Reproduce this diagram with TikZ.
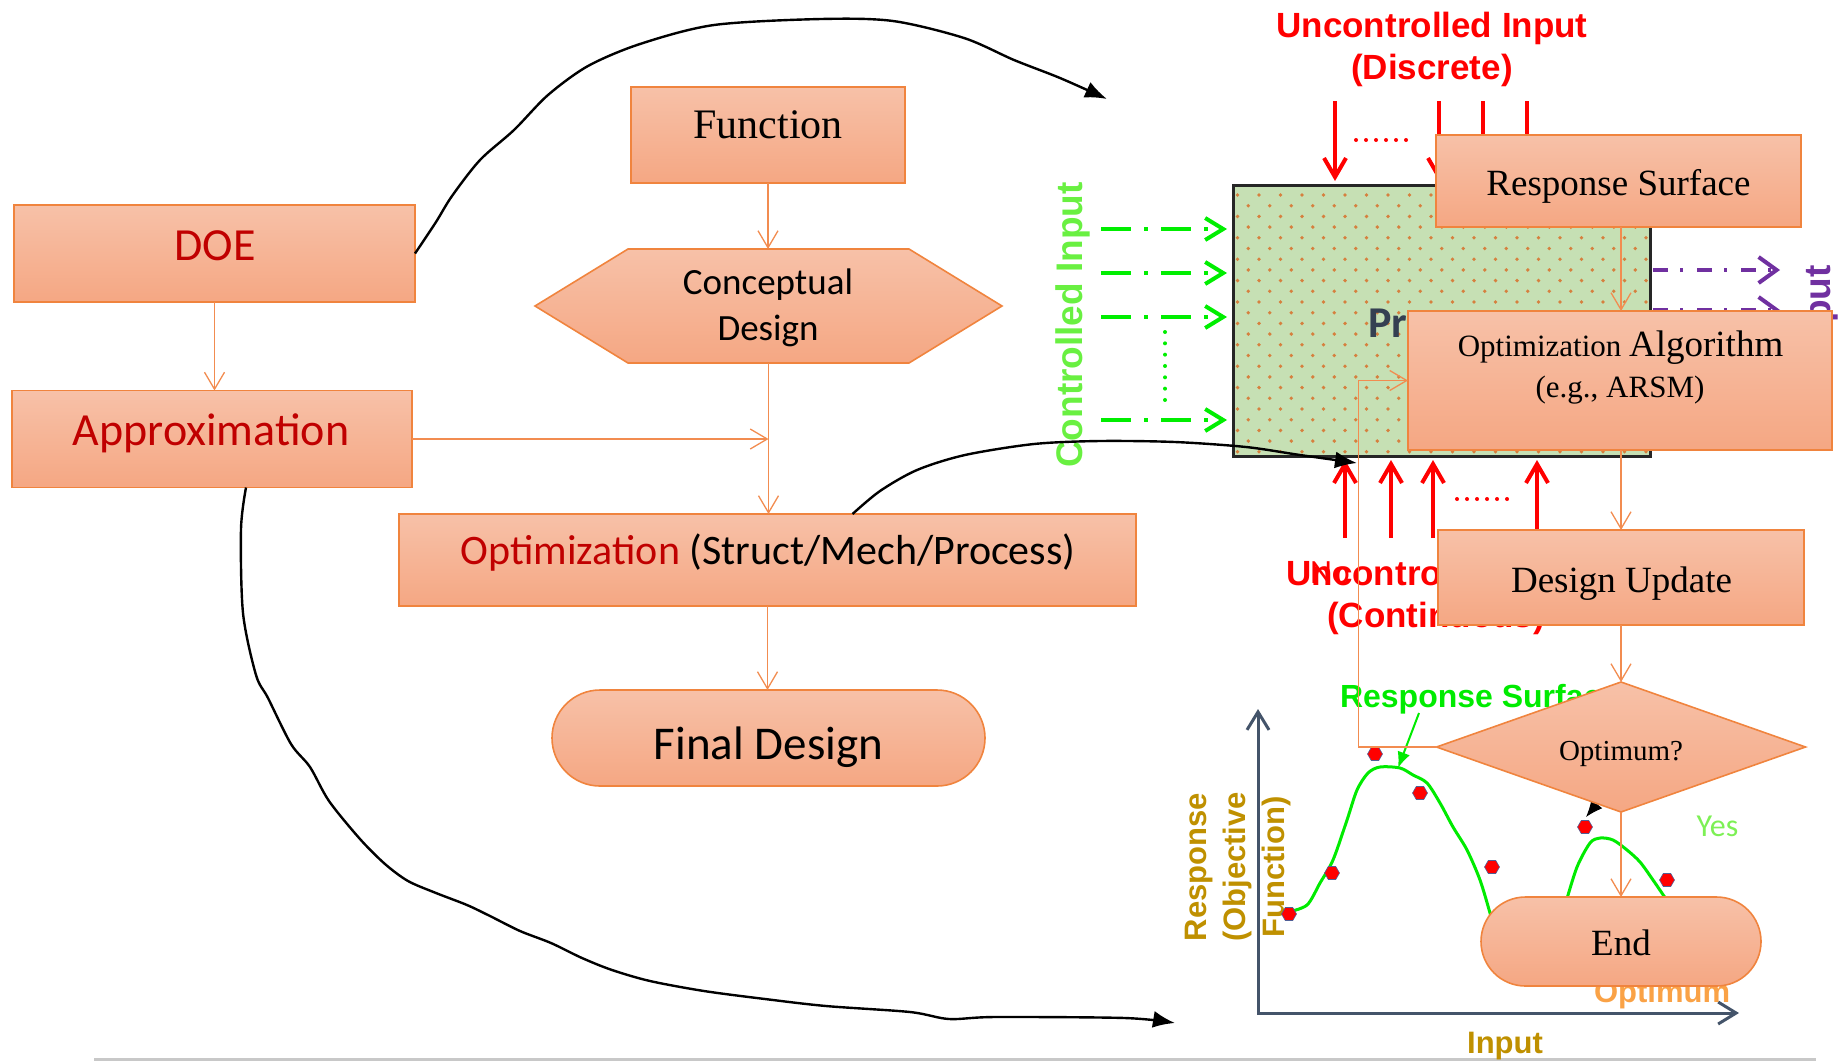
\documentclass[tikz,border=0pt]{standalone}
\usepackage{fontspec}
\setmainfont{Liberation Serif}
\newfontfamily\calib{Carlito}
\newfontfamily\arialf{Liberation Sans}
\usetikzlibrary{arrows.meta,shapes.misc,shapes.geometric}
\newcommand\setfs[1]{\fontsize{#1}{#1}\selectfont}

\definecolor{boxtop}{RGB}{247,193,168}
\definecolor{boxbot}{RGB}{245,167,131}
\definecolor{boxline}{RGB}{240,132,62}
\definecolor{flowline}{RGB}{242,140,80}
\definecolor{darkred}{RGB}{192,0,0}
\definecolor{inred}{RGB}{255,0,0}
\definecolor{procfill}{RGB}{198,224,180}
\definecolor{dotcol}{RGB}{214,128,62}
\definecolor{prtext}{RGB}{52,64,82}
\definecolor{ctrlgreen}{RGB}{0,238,0}
\definecolor{ctrltext}{RGB}{105,240,65}
\definecolor{outpurple}{RGB}{112,48,160}
\definecolor{gold}{RGB}{191,144,0}
\definecolor{axiscol}{RGB}{68,84,106}
\definecolor{optorange}{RGB}{250,162,70}
\definecolor{yesgreen}{RGB}{125,240,85}
\definecolor{curvegreen}{RGB}{0,235,0}
\definecolor{hexedge}{RGB}{80,95,150}
\definecolor{rulegray}{RGB}{200,200,200}

\begin{document}
\begin{tikzpicture}[x=1pt,y=-1pt,
  box/.style={draw=boxline, line width=1.6pt, top color=boxtop, bottom color=boxbot, inner sep=0pt, outer sep=0pt},
  anchorbox/.style={inner sep=0pt, outer sep=0pt},
  lbl/.style={inner sep=0pt, outer sep=0pt, anchor=base},
  flow/.style={draw=flowline, line width=1.3pt, -{Straight Barb[length=17pt,width=20pt]}},
  redarr/.style={draw=inred, line width=4pt, -{Straight Barb[length=19pt,width=22pt]}},
  dotrow/.style={line width=4pt, line cap=round, dash pattern=on 0pt off #1},
  grnarr/.style={draw=ctrlgreen, line width=4pt, dash pattern=on 30pt off 13pt on 4pt off 13pt, -{Straight Barb[length=18pt,width=22pt]}},
  purarr/.style={draw=outpurple, line width=4pt, dash pattern=on 15pt off 12pt on 3pt off 14pt, -{Straight Barb[length=18pt,width=26pt]}},
  blkarr/.style={draw=black, line width=2.4pt, line join=round, -{Latex[length=22pt,width=17pt]}},
  axisline/.style={draw=axiscol, line width=3pt},
  fitcurve/.style={draw=curvegreen, line width=3pt, line join=round, line cap=round},
  sample/.style={regular polygon, regular polygon sides=6, minimum size=15pt, inner sep=0pt, fill=red, draw=hexedge, line width=0.6pt},
]
\useasboundingbox (0,0) rectangle (1843,1061);

% rule along the bottom
\coordinate (ruleL) at (94,1059);
\coordinate (ruleR) at (1816,1059);
\draw[rulegray, line width=3pt] (ruleL) -- (ruleR);

% ---------- process block with dotted fill ----------
\node[anchorbox, fill=procfill, minimum width=417pt, minimum height=271pt] (proc) at (1441.5,320.5) {};
\begin{scope}
  \clip (proc.north west) rectangle (proc.south east);
  \foreach \k in {-1,...,25} {
    \foreach \c in {-1,...,19} {
      \fill[dotcol] ({1259-10.75*mod(\k+2,2)+21.5*\c},{195+10.7*\k}) circle (1.9pt);
    }
  }
\end{scope}
\draw[black!85, line width=3pt] (proc.north west) rectangle (proc.south east);
\node[lbl, anchor=base west, font={\calib\bfseries\setfs{44}}, text=prtext] (proc-t) at (1368,337) {Process};

% controlled inputs
\foreach \yy in {229,273,317,420}
  \draw[grnarr, shorten >=6pt] (1101,\yy) -- (proc.west |- 0,\yy);
\draw[ctrlgreen, dotrow=11.33pt] (1165,332) -- (1165,400);
\node[lbl, rotate=90, font={\arialf\bfseries\setfs{37}}, text=ctrltext] (ctrl-t) at (1082,325) {Controlled Input};

% outputs
\coordinate (out1) at (1780,270);
\coordinate (out2) at (1780,310);
\draw[purarr, shorten <=3pt] (proc.east |- out1) -- (out1);
\draw[purarr, shorten <=3pt] (proc.east |- out2) -- (out2);
\node[lbl, rotate=90, font={\arialf\bfseries\setfs{37}}, text=outpurple] (out-t) at (1830,326) {Output};

% uncontrolled inputs, discrete
\foreach \xx in {1335,1439,1483,1527}
  \draw[redarr, shorten >=4pt] (\xx,101) -- (\xx,0 |- proc.north);
\draw[inred, dotrow=10pt] (1356,140) -- (1416,140);
\node[lbl, font={\arialf\bfseries\setfs{35}}, text=inred] (ucd1) at (1432,37) {Uncontrolled Input};
\node[lbl, font={\arialf\bfseries\setfs{35}}, text=inred] (ucd2) at (1432,79) {(Discrete)};

% uncontrolled inputs, continuous
\foreach \xx in {1345,1391,1433,1537}
  \draw[redarr, shorten >=4pt] (\xx,538) -- (\xx,0 |- proc.south);
\draw[inred, dotrow=10pt] (1457,499) -- (1517,499);
\node[lbl, font={\arialf\bfseries\setfs{35}}, text=inred] (ucc1) at (1442,585) {Uncontrolled Input};
\node[lbl, font={\arialf\bfseries\setfs{35}}, text=inred] (ucc2) at (1436,627) {(Continuous)};

% ---------- response plot ----------
\coordinate (org) at (1258,1013);
\coordinate (ytip) at (1258,709);
\coordinate (xtip) at (1739,1013);
\draw[axisline, {Straight Barb[length=18pt,width=22pt]}-{Straight Barb[length=18pt,width=22pt]}] (ytip) -- (org) -- (xtip);
\node[rotate=90, align=center, inner sep=0pt, font={\arialf\bfseries\fontsize{31}{39}\selectfont}, text=gold] (resp-t) at (1238,867) {Response\\(Objective\\Function)};
\node[lbl, font={\arialf\bfseries\setfs{31}}, text=gold] (inp-t) at (1505,1053) {Input};
\node[lbl, font={\arialf\bfseries\setfs{31}}, text=optorange] (optm-t) at (1662,1002) {Optimum};

\draw[fitcurve] plot[smooth, tension=0.5] coordinates {(1288,912) (1307,905) (1320,883) (1333,860) (1347,820) (1357,790) (1368,773) (1380,767) (1400,768) (1413,775) (1427,783) (1440,803) (1453,827) (1467,850) (1480,880) (1490,913) (1496,935)};
\draw[fitcurve] plot[smooth, tension=0.5] coordinates {(1566,902) (1577,867) (1590,843) (1600,838) (1613,840) (1627,850) (1640,862) (1653,880) (1668,902)};

\foreach \px/\py [count=\i] in {1289/914, 1332/873, 1375/754, 1420/793, 1492/867, 1585/827, 1667/880}
  \node[sample] (s\i) at (\px,\py) {};

\node[lbl, anchor=base west, font={\arialf\bfseries\setfs{32}}, text=curvegreen] (rs-lbl) at (1340,707) {Response Surface};
\coordinate (rsfoot) at (1419,713);
\coordinate (peak) at (1398,768);
\draw[curvegreen, line width=2pt, -{Latex[length=16pt,width=13pt]}] (rsfoot) -- (peak);
\coordinate (tipA) at (1600,800);
\coordinate (tipB) at (1586,817);
\draw[line width=1pt, -{Latex[length=17pt,width=14pt]}] (tipA) -- (tipB);

% ---------- optimisation loop ----------
\node[box, minimum width=365pt, minimum height=92pt] (rs) at (1618.5,181) {};
\node[lbl, font={\setfs{37}}] (rs-t) at (1618.5,195) {Response Surface};
\node[box, minimum width=424pt, minimum height=139pt] (optalg) at (1620,380.5) {};
\node[lbl] (optalg-t1) at (1620.5,356) {\setfs{31}Optimization \setfs{37}Algorithm};
\node[lbl, font={\setfs{31}}] (optalg-t2) at (1620,397) {(e.g., ARSM)};
\node[box, minimum width=366pt, minimum height=95pt] (du) at (1621,577.5) {};
\node[lbl, font={\setfs{37}}] (du-t) at (1621.5,592) {Design Update};
\node[anchorbox, minimum width=369pt, minimum height=130pt] (optq) at (1621,747) {};
\path[box] (optq.west) -- (optq.north) -- (optq.east) -- (optq.south) -- cycle;
\node[lbl, font={\setfs{29}}] (optq-t) at (1621,760) {Optimum?};
\node[box, rounded rectangle, minimum width=280pt, minimum height=89pt] (endnode) at (1621,941.5) {};
\node[lbl, font={\setfs{37}}] (end-t) at (1621,955) {End};

\draw[flow] (rs.south -| optq.north) -- (optalg.north -| optq.north);
\draw[flow] (optalg.south -| optq.north) -- (du.north -| optq.north);
\draw[flow] (du.south -| optq.north) -- (optq.north);
\draw[flow] (optq.south) -- (endnode.north);
\draw[flow] (optq.west) -- ++(-78,0) |- (optalg.west);
\node[lbl, font={\calib\setfs{32}}, text=yesgreen] (yes-t) at (1717.5,836) {Yes};
\node[lbl, anchor=base west, font={\calib\setfs{34}}, text=inred] (no-t) at (1310,583) {No};

% ---------- design flow ----------
\node[box, minimum width=401pt, minimum height=97pt] (doe) at (214.5,253.5) {};
\node[lbl, font={\calib\setfs{46}}, text=darkred] (doe-t) at (215,260) {DOE};
\node[box, minimum width=400pt, minimum height=97pt] (approx) at (212,439) {};
\node[lbl, font={\calib\setfs{46}}, text=darkred] (approx-t) at (211,445) {Approximation};
\node[box, minimum width=274pt, minimum height=96pt] (fn) at (768,135) {};
\node[lbl, font={\setfs{42}}] (fn-t) at (768,138) {Function};
\node[anchorbox, minimum width=467pt, minimum height=114pt] (cd) at (768.5,306) {};
\path[box] (cd.west) -- ([xshift=93pt]cd.north west) -- ([xshift=-93pt]cd.north east) -- (cd.east) -- ([xshift=-93pt]cd.south east) -- ([xshift=93pt]cd.south west) -- cycle;
\node[lbl, font={\calib\setfs{37}}] (cd-t1) at (768,294) {Conceptual};
\node[lbl, font={\calib\setfs{37}}] (cd-t2) at (768,340) {Design};
\node[box, minimum width=737pt, minimum height=92pt] (opt) at (767.5,560) {};
\node[lbl, font={\calib\setfs{42}}] (opt-t) at (768,564) {\textcolor{darkred}{Optimization} (Struct/Mech/Process)};
\node[box, rounded rectangle, minimum width=433pt, minimum height=96pt] (fd) at (768.5,738) {};
\node[lbl, font={\calib\setfs{47}}] (fd-t) at (768.5,759) {Final Design};

\draw[flow] (doe.south) -- (doe.south |- approx.north);
\draw[flow] (fn.south) -- (fn.south |- cd.north);
\draw[flow] (cd.south) -- (cd.south |- opt.north);
\draw[flow] (approx.east) -- (approx.east -| cd.south);
\draw[flow] (opt.south) -- (opt.south |- fd.north);

% ---------- hand-drawn links ----------
\coordinate (c1end) at (1107,99);
\coordinate (c2end) at (1357,463);
\coordinate (c3end) at (1175,1023);
\draw[blkarr] plot[smooth, tension=0.5] coordinates {(doe.east) (436,222) (452,196) (480,160) (514,130) (548,95) (588,66) (640,44) (714,25) (821,19) (893,21) (964,38) (1014,60) (1060,78) (c1end)};
\draw[blkarr] plot[smooth, tension=0.5] coordinates {([xshift=85pt]opt.north) (880,491) (917,470) (965,455) (1034,444) (1100,441) (1175,442) (1246,447) (1300,455) (c2end)};
\draw[blkarr] plot[smooth, tension=0.5] coordinates {([xshift=34pt]approx.south) (241,529) (243,613) (256,675) (268,698) (291,744) (310,767) (329,801) (360,839) (385,864) (408,881) (436,893) (467,905) (490,916) (520,931) (551,943) (582,958) (612,970) (650,981) (704,991) (765,999) (826,1006) (910,1012) (949,1019) (995,1017) (1125,1018) (c3end)};
\end{tikzpicture}
\end{document}
